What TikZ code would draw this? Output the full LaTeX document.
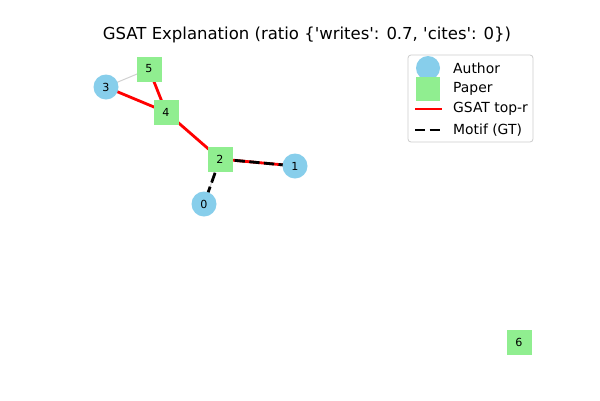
\documentclass[tikz,border=0pt]{standalone}
\usepackage{fontspec}
\setmainfont{DejaVu Sans}
\newcommand{\sq}{\textquotesingle}
\begin{document}
\begin{tikzpicture}[x=1pt,y=-1pt,
  author/.style={circle,fill=authorblue,draw=none,minimum size=25pt,inner sep=0pt,font=\fontsize{11.1}{13}\selectfont},
  paper/.style={rectangle,fill=papergreen,draw=none,minimum size=25pt,inner sep=0pt,font=\fontsize{11.1}{13}\selectfont},
  grayedge/.style={draw=black!18,line width=1pt},
  rededge/.style={draw=red,line width=2.8pt},
  motifedge/.style={draw=black,line width=2.8pt,dash pattern=on 10.3pt off 4.4pt},
  legtext/.style={anchor=west,inner sep=0pt,font=\fontsize{13.9}{16}\selectfont}]
\definecolor{authorblue}{HTML}{87CEEB}
\definecolor{papergreen}{HTML}{90EE90}
\useasboundingbox (0,0) rectangle (600,400);
\fill[white] (0,0) rectangle (600,400);
% title
\node[font=\fontsize{16.5}{20}\selectfont,inner sep=0pt] (title) at (307,35) {GSAT Explanation (ratio \{\sq writes\sq: 0.7, \sq cites\sq: 0\})};
% positions
\coordinate (c0) at (204,204);
\coordinate (c1) at (295,166);
\coordinate (c2) at (220,159);
\coordinate (c3) at (106,87);
\coordinate (c4) at (166,112);
\coordinate (c5) at (149,69);
\coordinate (c6) at (519,342);
% edges
\draw[grayedge] (c3) -- (c5);
\draw[grayedge] (c2) -- (c0);
\draw[rededge] (c3) -- (c4);
\draw[rededge] (c5) -- (c4);
\draw[rededge] (c4) -- (c2);
\draw[rededge] (c2) -- (c1);
\draw[motifedge] (c2) -- (c1);
\draw[motifedge] (c2) -- (c0);
% nodes
\node[author] (n0) at (c0) {0};
\node[author] (n1) at (c1) {1};
\node[paper] (n2) at (c2) {2};
\node[author] (n3) at (c3) {3};
\node[paper] (n4) at (c4) {4};
\node[paper] (n5) at (c5) {5};
\node[paper] (n6) at (c6) {6};
% legend
\draw[draw=black!20,fill=white,rounded corners=3pt,line width=0.8pt] (408,55) rectangle (533,142);
\node[author,minimum size=24pt] (la) at (428,68) {};
\node[paper,minimum size=24pt] (lp) at (428,89) {};
\coordinate (lr1) at (415,109);
\coordinate (lr2) at (442,109);
\draw[rededge] (lr1) -- (lr2);
\coordinate (lm1) at (415,130);
\coordinate (lm2) at (442,130);
\draw[draw=black,line width=2.8pt,dash pattern=on 10.3pt off 4.4pt] (lm1) -- (lm2);
\node[legtext] (ta) at (453,68) {Author};
\node[legtext] (tp) at (453,89) {Paper};
\node[legtext] (tr) at (453,109) {GSAT top-r};
\node[legtext] (tm) at (453,130) {Motif (GT)};
\end{tikzpicture}
\end{document}
